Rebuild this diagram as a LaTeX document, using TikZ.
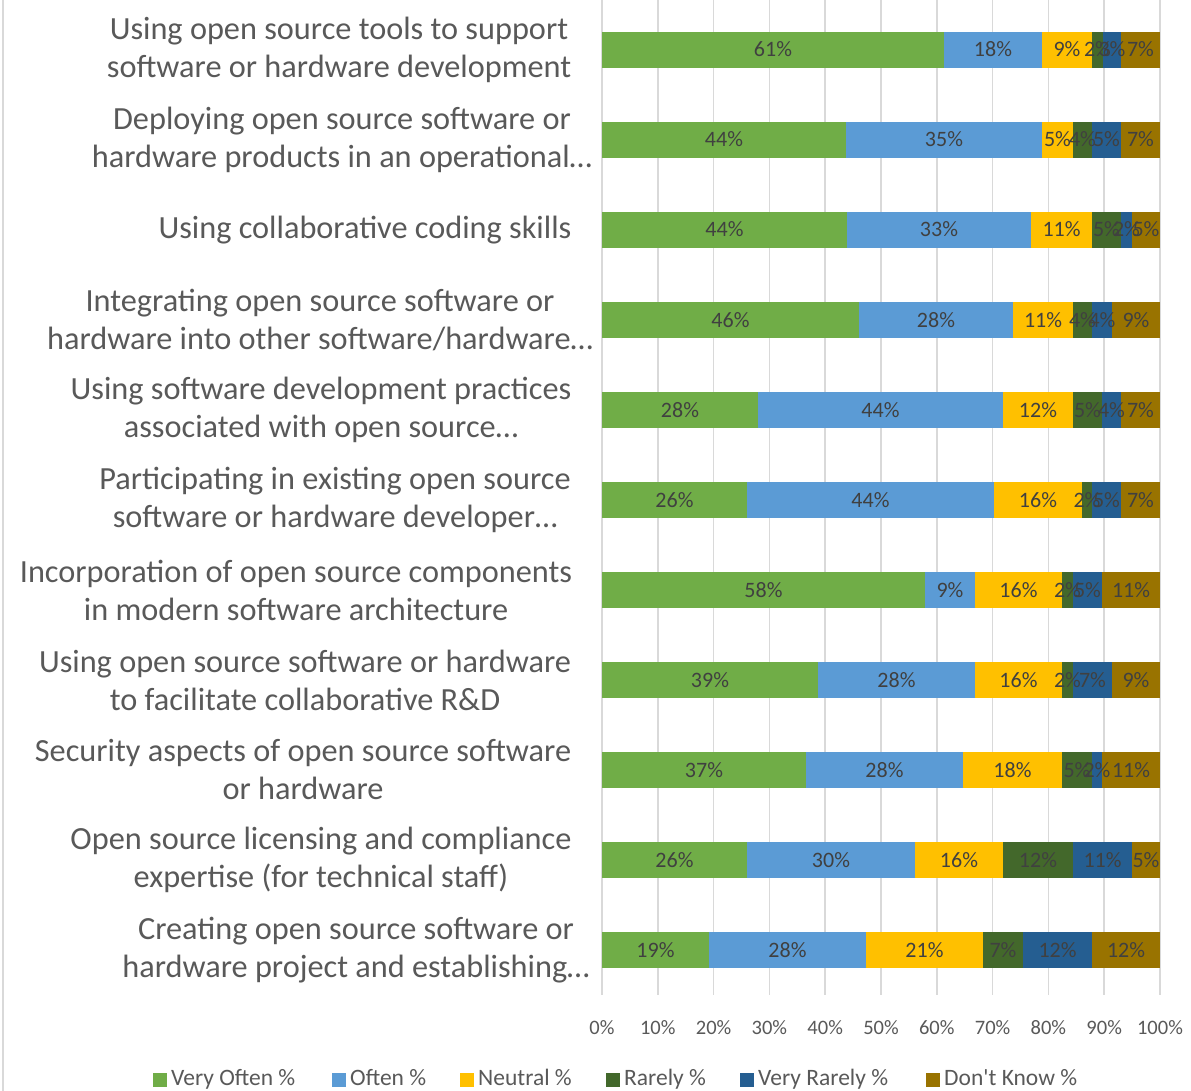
\documentclass[tikz,border=0pt]{standalone}
\usepackage{fontspec}
\newfontfamily\carl{Carlito}
\definecolor{cvo}{HTML}{70AD47}
\definecolor{cof}{HTML}{5B9BD5}
\definecolor{cne}{HTML}{FFC000}
\definecolor{cra}{HTML}{43682B}
\definecolor{cvr}{HTML}{255E91}
\definecolor{cdk}{HTML}{997300}
\definecolor{grid}{HTML}{D9D9D9}
\definecolor{labtxt}{HTML}{595959}
\definecolor{bartxt}{HTML}{404040}
\begin{document}
\begin{tikzpicture}[x=1pt,y=-1pt,
  catlab/.style={align=center,text=labtxt,inner sep=0pt,font=\carl\fontsize{32.3}{38}\selectfont},
  barlab/.style={anchor=base,text=bartxt,inner sep=0pt,font=\carl\fontsize{22}{24}\selectfont},
  axlab/.style={anchor=base,text=labtxt,inner sep=0pt,font=\carl\fontsize{20.5}{24}\selectfont},
  leglab/.style={anchor=base west,text=labtxt,inner sep=0pt,font=\carl\fontsize{23.5}{26}\selectfont},
  gridline/.style={draw=grid,line width=1.6pt}]
\useasboundingbox (0,0) rectangle (1191,1091);
\fill[white] (0,0) rectangle (1191,1091);
% left border
\draw[grid,line width=2pt] (3,0) -- (3,1091);
% gridlines and axis labels
\foreach \k in {0,...,10}{
  \pgfmathsetmacro\gx{602+55.8*\k}
  \coordinate (gt\k) at (\gx,0);
  \coordinate (gb\k) at (\gx,995);
  \draw[gridline] (gt\k) -- (gb\k);
  \pgfmathtruncatemacro\pc{10*\k}
  \node[axlab] (ax\k) at (\gx,1034) {\pc\%};
}
% bars
\foreach \r/\bb/\ll in {
  1/{944,1042,1092,1103,1121}/{61,18,9,2,3,7},
  2/{846,1042,1073,1092,1121}/{44,35,5,4,5,7},
  3/{847,1031,1092,1121,1132}/{44,33,11,5,2,5},
  4/{859,1013,1073,1092,1112}/{46,28,11,4,4,9},
  5/{758,1003,1073,1102,1121}/{28,44,12,5,4,7},
  6/{747,994,1082,1092,1121}/{26,44,16,2,5,7},
  7/{925,975,1062,1073,1102}/{58,9,16,2,5,11},
  8/{818,975,1062,1073,1112}/{39,28,16,2,7,9},
  9/{806,963,1062,1092,1102}/{37,28,18,5,2,11},
  10/{747,915,1003,1073,1132}/{26,30,16,12,11,5},
  11/{709,866,983,1023,1092}/{19,28,21,7,12,12}}{
  \pgfmathsetmacro\yc{50+90*(\r-1)}
  \foreach \c [count=\i from 0] in {cvo,cof,cne,cra,cvr,cdk}{
    \pgfmathsetmacro\xa{{602,\bb,1160}[\i]}
    \pgfmathsetmacro\xb{{602,\bb,1160}[\i+1]}
    \fill[\c] (\xa,\yc-18) rectangle (\xb,\yc+18);
  }
  \foreach \c [count=\i from 0] in {cvo,cof,cne,cra,cvr,cdk}{
    \pgfmathsetmacro\xa{{602,\bb,1160}[\i]}
    \pgfmathsetmacro\xb{{602,\bb,1160}[\i+1]}
    \pgfmathtruncatemacro\lab{{\ll}[\i]}
    \node[barlab] (r\r s\i) at ({(\xa+\xb)/2},\yc+7) {\lab\%};
  }
}
% category labels
\node[catlab] (c1) at (339,50) {Using open source tools to support\\software or hardware development};
\node[catlab] (c2) at (342,140) {Deploying open source software or\\hardware products in an operational…};
\node[catlab] (c3) at (365,230) {Using collaborative coding skills};
\node[catlab] (c4) at (320,320) {Integrating open source software or\\hardware into other software/hardware…};
\node[catlab] (c5) at (321,410) {Using software development practices\\associated with open source…};
\node[catlab] (c6) at (335,500) {Participating in existing open source\\software or hardware developer…};
\node[catlab] (c7) at (296,590) {Incorporation of open source components\\in modern software architecture};
\node[catlab] (c8) at (305,680) {Using open source software or hardware\\to facilitate collaborative R\&D};
\node[catlab] (c9) at (303,770) {Security aspects of open source software\\or hardware};
\node[catlab] (c10) at (321,860) {Open source licensing and compliance\\expertise (for technical staff)};
\node[catlab] (c11) at (356,950) {Creating open source software or\\hardware project and establishing…};
% legend
\foreach \sx/\c/\t [count=\j] in {153/cvo/Very Often \%,332/cof/Often \%,460/cne/Neutral \%,606/cra/Rarely \%,740/cvr/Very Rarely \%,926/cdk/Don't Know \%}{
  \fill[\c] (\sx,1073) rectangle (\sx+14,1087);
  \node[leglab] (lg\j) at (\sx+18,1085) {\t};
}
\end{tikzpicture}
\end{document}
